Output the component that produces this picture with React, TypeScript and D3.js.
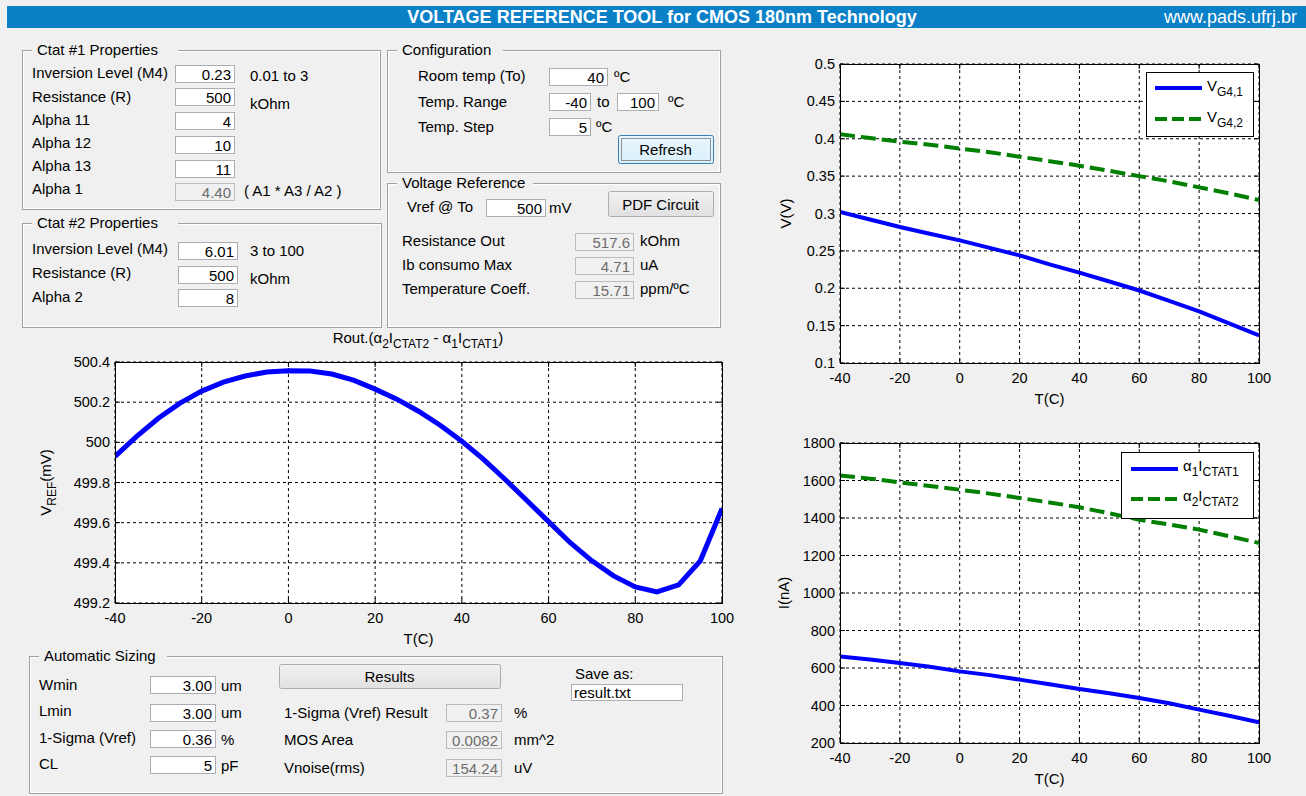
import React from "react";
import * as d3 from "d3";

// temperature sweeps (C)
const tempsFine = [-40, -35, -30, -25, -20, -15, -10, -5, 0, 5, 10, 15, 20, 25, 30, 35, 40, 45, 50, 55, 60, 65, 70, 75, 80, 85, 90, 95, 100];
const tempsCoarse = [-40, -30, -20, -10, 0, 10, 20, 30, 40, 50, 60, 70, 80, 90, 100];

// Vref (mV) vs T
const vrefValues = [499.93, 500.03, 500.12, 500.195, 500.255, 500.3, 500.33, 500.35, 500.357, 500.355, 500.34, 500.31, 500.265, 500.215, 500.155, 500.085, 500.005, 499.915, 499.815, 499.71, 499.605, 499.5, 499.41, 499.335, 499.28, 499.255, 499.29, 499.41, 499.67];

// gate voltages (V)
const vg41Values = [0.302, 0.292, 0.282, 0.273, 0.264, 0.254, 0.244, 0.232, 0.221, 0.209, 0.197, 0.183, 0.169, 0.153, 0.137];
const vg42Values = [0.406, 0.401, 0.396, 0.392, 0.387, 0.382, 0.376, 0.37, 0.364, 0.357, 0.35, 0.343, 0.335, 0.327, 0.318];

// currents (nA)
const ictat1Values = [662, 645, 627, 607, 582, 562, 538, 513, 488, 465, 440, 412, 378, 345, 310];
const ictat2Values = [1627, 1610, 1590, 1571, 1551, 1530, 1507, 1483, 1457, 1425, 1391, 1365, 1338, 1303, 1267];

const xTicks = [-40, -20, 0, 20, 40, 60, 80, 100];
const vrefTicks = [499.2, 499.4, 499.6, 499.8, 500, 500.2, 500.4];
const vgTicks = [0.1, 0.15, 0.2, 0.25, 0.3, 0.35, 0.4, 0.45, 0.5];
const iTicks = [200, 400, 600, 800, 1000, 1200, 1400, 1600, 1800];

const FONT = "'Liberation Sans', Arial, sans-serif";
const BG = "#f0f0f0";
const GUI_SIZE = 15;

const Txt = ({ x, y, children, anchor = "start", size = GUI_SIZE, fill = "#000", weight = "normal" }: any) => (
  <text x={x} y={y} dy="0.35em" textAnchor={anchor} fontSize={size} fill={fill} fontWeight={weight} fontFamily={FONT}>
    {children}
  </text>
);

// parts at odd indices are drawn as subscripts
const subText = (parts: string[], subSize = 11) =>
  parts.map((p, i) => (
    <tspan key={i} dy={i === 0 ? undefined : i % 2 ? 5 : -5} fontSize={i % 2 ? subSize : undefined}>
      {p}
    </tspan>
  ));

const Panel = ({ x, y, w, h, title, titleW }: any) => (
  <g>
    <rect x={x + 0.5} y={y + 0.5} width={w} height={h} fill="none" stroke="#a0a0a0" />
    <rect x={x + 1.5} y={y + 1.5} width={w - 2} height={h - 2} fill="none" stroke="#fff" />
    <rect x={x + 10} y={y - 8} width={titleW} height={16} fill={BG} />
    <Txt x={x + 15} y={y}>{title}</Txt>
  </g>
);

const Edit = ({ x, y, w, h = 17, value, disabled = false, align = "end" }: any) => (
  <g>
    <rect x={x + 0.5} y={y + 0.5} width={w} height={h} fill={disabled ? BG : "#fff"} stroke={disabled ? "#bcbcbc" : "#abadb3"} />
    <Txt x={align === "end" ? x + w - 3 : x + 3} y={y + h / 2 + 1} anchor={align} fill={disabled ? "#6d6d6d" : "#000"}>
      {value}
    </Txt>
  </g>
);

const Button = ({ x, y, w, h, label, focused = false, id }: any) => (
  <g>
    <defs>
      <linearGradient id={id} x1="0" y1="0" x2="0" y2="1">
        <stop offset="0" stopColor={focused ? "#eaf6fd" : "#f2f2f2"} />
        <stop offset="1" stopColor={focused ? "#d9f0fc" : "#e0e0e0"} />
      </linearGradient>
    </defs>
    <rect x={x + 0.5} y={y + 0.5} width={w} height={h} fill={`url(#${id})`} stroke={focused ? "#3c7fb1" : "#adadad"} rx={2} />
    {focused && (
      <rect x={x + 3.5} y={y + 3.5} width={w - 6} height={h - 6} fill="none" stroke="#333" strokeDasharray="1,1" />
    )}
    <Txt x={x + w / 2} y={y + h / 2 + 1} anchor="middle">{label}</Txt>
  </g>
);

const LinePlot = ({ left, right, top, bottom, yDomain, yTicks, series, yLabel, yLabelX, fmt, children }: any) => {
  const x = d3.scaleLinear().domain([-40, 100]).range([left, right]);
  const y = d3.scaleLinear().domain(yDomain).range([bottom, top]);
  return (
    <g fontFamily={FONT}>
      <rect x={left} y={top} width={right - left} height={bottom - top} fill="#fff" />
      {xTicks.map((t) => (
        <line key={"gx" + t} x1={x(t)} x2={x(t)} y1={top} y2={bottom} stroke="#000" strokeDasharray="3,3" />
      ))}
      {yTicks.map((t: number) => (
        <line key={"gy" + t} x1={left} x2={right} y1={y(t)} y2={y(t)} stroke="#000" strokeDasharray="3,3" />
      ))}
      {xTicks.map((t) => (
        <g key={"tx" + t}>
          <line x1={x(t)} x2={x(t)} y1={bottom} y2={bottom - 5} stroke="#000" />
          <line x1={x(t)} x2={x(t)} y1={top} y2={top + 5} stroke="#000" />
          <text x={x(t)} y={bottom + 15} dy="0.35em" textAnchor="middle" fontSize={14.5}>{t}</text>
        </g>
      ))}
      {yTicks.map((t: number) => (
        <g key={"ty" + t}>
          <line x1={left} x2={left + 5} y1={y(t)} y2={y(t)} stroke="#000" />
          <line x1={right} x2={right - 5} y1={y(t)} y2={y(t)} stroke="#000" />
          <text x={left - 5} y={y(t)} dy="0.35em" textAnchor="end" fontSize={14.5}>{fmt(t)}</text>
        </g>
      ))}
      <defs>
        <clipPath id={"clip" + top}>
          <rect x={left} y={top} width={right - left} height={bottom - top} />
        </clipPath>
      </defs>
      <g clipPath={`url(#clip${top})`}>
        {series.map((s: any, i: number) => {
          const line = d3
            .line<number>()
            .x((_, j) => x(s.temps[j]))
            .y((v) => y(v));
          return (
            <path
              key={i}
              d={line(s.values) || ""}
              fill="none"
              stroke={s.color}
              strokeWidth={s.width}
              strokeDasharray={s.dash || null}
            />
          );
        })}
      </g>
      <rect x={left + 0.5} y={top + 0.5} width={right - left} height={bottom - top} fill="none" stroke="#000" />
      <text x={(left + right) / 2} y={bottom + 36} dy="0.35em" textAnchor="middle" fontSize={15}>T(C)</text>
      <text transform={`translate(${yLabelX},${(top + bottom) / 2}) rotate(-90)`} textAnchor="middle" fontSize={15} dy="0.35em">
        {yLabel}
      </text>
      {children}
    </g>
  );
};

const fmtTick = (t: number) => d3.format("~g")(t);

export default function App() {
  return (
    <svg width={1306} height={796} style={{ position: "absolute", left: 0, top: 0, background: BG }} fontFamily={FONT}>
      <rect x={0} y={0} width={1306} height={796} fill={BG} />
      {/* title bar */}
      <rect x={7} y={6} width={1299} height={22} fill="#0a80c7" />
      <Txt x={662} y={17} anchor="middle" size={18} weight="bold" fill="#fff">
        VOLTAGE REFERENCE TOOL for CMOS 180nm Technology
      </Txt>
      <Txt x={1297} y={17} anchor="end" size={18} fill="#fff">www.pads.ufrj.br</Txt>

      {/* Ctat #1 */}
      <Panel x={22} y={50} w={358} h={159} title="Ctat #1 Properties" titleW={146} />
      <Txt x={32} y={73}>Inversion Level (M4)</Txt>
      <Edit x={175} y={65} w={59} value="0.23" />
      <Txt x={250} y={76}>0.01 to 3</Txt>
      <Txt x={32} y={97}>Resistance (R)</Txt>
      <Edit x={175} y={88} w={59} value="500" />
      <Txt x={250} y={104}>kOhm</Txt>
      <Txt x={32} y={120}>Alpha 11</Txt>
      <Edit x={175} y={112} w={59} value="4" />
      <Txt x={32} y={143}>Alpha 12</Txt>
      <Edit x={175} y={136} w={59} value="10" />
      <Txt x={32} y={166}>Alpha 13</Txt>
      <Edit x={175} y={160} w={59} value="11" />
      <Txt x={32} y={189}>Alpha 1</Txt>
      <Edit x={175} y={183} w={59} value="4.40" disabled />
      <Txt x={244} y={191}>( A1 * A3 / A2 )</Txt>

      {/* Ctat #2 */}
      <Panel x={22} y={223} w={359} h={104} title="Ctat #2 Properties" titleW={146} />
      <Txt x={32} y={249}>Inversion Level (M4)</Txt>
      <Edit x={178} y={242} w={59} value="6.01" />
      <Txt x={250} y={251}>3 to 100</Txt>
      <Txt x={32} y={273}>Resistance (R)</Txt>
      <Edit x={178} y={266} w={59} value="500" />
      <Txt x={250} y={279}>kOhm</Txt>
      <Txt x={32} y={297}>Alpha 2</Txt>
      <Edit x={178} y={289} w={59} value="8" />

      {/* Configuration */}
      <Panel x={387} y={50} w={333} h={122} title="Configuration" titleW={106} />
      <Txt x={418} y={76}>Room temp (To)</Txt>
      <Edit x={549} y={68} w={58} value="40" />
      <Txt x={614} y={77}>ºC</Txt>
      <Txt x={418} y={102}>Temp. Range</Txt>
      <Edit x={549} y={93} w={41} value="-40" />
      <Txt x={597} y={102}>to</Txt>
      <Edit x={617} y={93} w={41} value="100" />
      <Txt x={668} y={102}>ºC</Txt>
      <Txt x={418} y={127}>Temp. Step</Txt>
      <Edit x={549} y={118} w={41} value="5" />
      <Txt x={596} y={127}>ºC</Txt>
      <Button x={618} y={135} w={95} h={28} label="Refresh" focused id="gRefresh" />

      {/* Voltage Reference */}
      <Panel x={387} y={183} w={333} h={144} title="Voltage Reference" titleW={136} />
      <Txt x={407} y={207}>Vref @ To</Txt>
      <Edit x={486} y={199} w={59} value="500" />
      <Txt x={549} y={208}>mV</Txt>
      <Button x={608} y={191} w={105} h={25} label="PDF Circuit" id="gPdf" />
      <Txt x={402} y={241}>Resistance Out</Txt>
      <Edit x={575} y={233} w={58} value="517.6" disabled />
      <Txt x={640} y={241}>kOhm</Txt>
      <Txt x={402} y={265}>Ib consumo Max</Txt>
      <Edit x={575} y={257} w={58} value="4.71" disabled />
      <Txt x={640} y={265}>uA</Txt>
      <Txt x={402} y={289}>Temperature Coeff.</Txt>
      <Edit x={575} y={281} w={58} value="15.71" disabled />
      <Txt x={640} y={289}>ppm/ºC</Txt>

      {/* Vref plot */}
      <text x={418} y={338} dy="0.35em" textAnchor="middle" fontSize={15} fontFamily={FONT}>
        {subText(["Rout.(α", "2", "I", "CTAT2", " - α", "1", "I", "CTAT1", ")"], 12)}
      </text>
      <LinePlot
        left={115}
        right={722}
        top={362}
        bottom={603}
        yDomain={[499.2, 500.4]}
        yTicks={vrefTicks}
        fmt={fmtTick}
        yLabelX={46}
        yLabel={subText(["V", "REF", "(mV)"], 12)}
        series={[{ temps: tempsFine, values: vrefValues, color: "#0000ff", width: 5 }]}
      />

      {/* Automatic Sizing */}
      <Panel x={29} y={656} w={693} h={137} title="Automatic Sizing" titleW={128} />
      <Txt x={39} y={685}>Wmin</Txt>
      <Edit x={150} y={676} w={65} value="3.00" />
      <Txt x={221} y={686}>um</Txt>
      <Txt x={39} y={711}>Lmin</Txt>
      <Edit x={150} y={704} w={65} value="3.00" />
      <Txt x={221} y={713}>um</Txt>
      <Txt x={39} y={738}>1-Sigma (Vref)</Txt>
      <Edit x={150} y={730} w={65} value="0.36" />
      <Txt x={221} y={740}>%</Txt>
      <Txt x={39} y={764}>CL</Txt>
      <Edit x={150} y={756} w={65} value="5" />
      <Txt x={221} y={766}>pF</Txt>
      <Button x={279} y={664} w={221} h={24} label="Results" id="gResults" />
      <Txt x={284} y={713}>1-Sigma (Vref) Result</Txt>
      <Edit x={446} y={704} w={55} value="0.37" disabled />
      <Txt x={514} y={713}>%</Txt>
      <Txt x={284} y={740}>MOS Area</Txt>
      <Edit x={446} y={731} w={55} value="0.0082" disabled />
      <Txt x={514} y={740}>mm^2</Txt>
      <Txt x={284} y={768}>Vnoise(rms)</Txt>
      <Edit x={446} y={759} w={55} value="154.24" disabled />
      <Txt x={514} y={768}>uV</Txt>
      <Txt x={575} y={674}>Save as:</Txt>
      <Edit x={571} y={684} w={111} h={16} value="result.txt" align="start" />

      {/* VG plot */}
      <LinePlot
        left={840}
        right={1259}
        top={64}
        bottom={363}
        yDomain={[0.1, 0.5]}
        yTicks={vgTicks}
        fmt={fmtTick}
        yLabelX={786}
        yLabel="V(V)"
        series={[
          { temps: tempsCoarse, values: vg41Values, color: "#0000ff", width: 4 },
          { temps: tempsCoarse, values: vg42Values, color: "#007f00", width: 4, dash: "15,6" },
        ]}
      >
        <rect x={1146.5} y={72.5} width={107} height={64} fill="#fff" stroke="#000" />
        <line x1={1155} x2={1202} y1={88} y2={88} stroke="#0000ff" strokeWidth={4} />
        <line x1={1155} x2={1202} y1={119} y2={119} stroke="#007f00" strokeWidth={4} strokeDasharray="12,5" />
        <text x={1207} y={86} dy="0.35em" fontSize={15}>{subText(["V", "G4,1"], 12)}</text>
        <text x={1207} y={117} dy="0.35em" fontSize={15}>{subText(["V", "G4,2"], 12)}</text>
      </LinePlot>

      {/* current plot */}
      <LinePlot
        left={840}
        right={1259}
        top={443}
        bottom={743}
        yDomain={[200, 1800]}
        yTicks={iTicks}
        fmt={fmtTick}
        yLabelX={784}
        yLabel="I(nA)"
        series={[
          { temps: tempsCoarse, values: ictat1Values, color: "#0000ff", width: 4 },
          { temps: tempsCoarse, values: ictat2Values, color: "#007f00", width: 4, dash: "15,6" },
        ]}
      >
        <rect x={1121.5} y={452.5} width={132} height={66} fill="#fff" stroke="#000" />
        <line x1={1131} x2={1178} y1={469} y2={469} stroke="#0000ff" strokeWidth={4} />
        <line x1={1131} x2={1178} y1={499} y2={499} stroke="#007f00" strokeWidth={4} strokeDasharray="12,5" />
        <text x={1183} y={466} dy="0.35em" fontSize={15}>{subText(["α", "1", "I", "CTAT1"], 12)}</text>
        <text x={1183} y={496} dy="0.35em" fontSize={15}>{subText(["α", "2", "I", "CTAT2"], 12)}</text>
      </LinePlot>
    </svg>
  );
}
